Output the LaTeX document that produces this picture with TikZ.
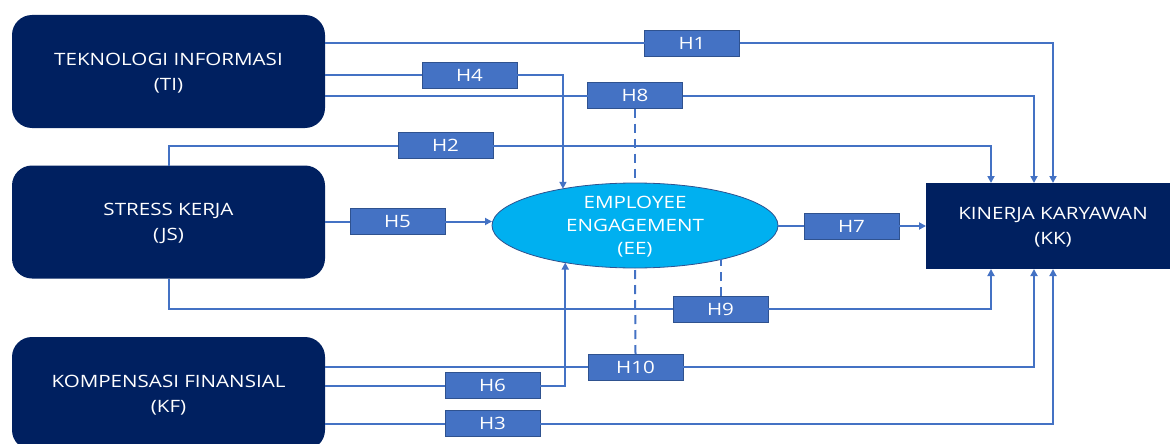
\documentclass[tikz,border=0pt]{standalone}
\usepackage{fontspec}
\newfontfamily\diagfont[FakeStretch=1.21]{Open Sans}
\usetikzlibrary{arrows.meta,shapes.geometric}
\definecolor{navy}{HTML}{002060}
\definecolor{linkblue}{HTML}{4472C4}
\definecolor{hborder}{HTML}{2F528F}
\definecolor{eefill}{HTML}{00B0F0}

\begin{document}
\begin{tikzpicture}[x=1pt,y=-1pt,
  construct/.style={fill=navy, rounded corners=20pt, minimum width=313pt,
    minimum height=113pt, inner sep=0pt, outer sep=0pt, text=white,
    align=center, text depth=-2pt, font=\diagfont\fontsize{17}{25}\selectfont},
  hyp/.style={fill=linkblue, draw=hborder, line width=0.8pt,
    minimum width=95pt, minimum height=26pt, inner sep=0pt, outer sep=0pt,
    text=white, font=\diagfont\fontsize{17}{20}\selectfont},
  link/.style={draw=linkblue, line width=2pt},
  arr/.style={link, -{Triangle[length=7pt,width=7pt]}},
  moder/.style={link, dash pattern=on 9pt off 6pt},
]
\clip (0,0) rectangle (1170,444);

% independent constructs
\node[construct] (ti) at (168.5,71.5) {TEKNOLOGI INFORMASI\\(TI)};
\node[construct] (js) at (168.5,222) {STRESS KERJA\\(JS)};
\node[construct] (kf) at (168.5,393.5) {KOMPENSASI FINANSIAL\\(KF)};

% mediator
\node[ellipse, fill=eefill, draw=hborder, line width=0.8pt, inner sep=0pt,
  outer sep=0pt, minimum width=286pt, minimum height=85pt,
  label={[text=white, align=center, text depth=0pt,
    font=\diagfont\fontsize{17}{23}\selectfont]center:{EMPLOYEE\\ENGAGEMENT\\(EE)}}]
  (ee) at (635,225.5) {};

% dependent construct
\node[fill=navy, minimum width=254pt, minimum height=86pt, inner sep=0pt,
  outer sep=0pt, text=white, align=center, text depth=0pt,
  font=\diagfont\fontsize{17}{25}\selectfont]
  (kk) at (1053,226) {KINERJA KARYAWAN\\(KK)};

% hypothesis labels
\node[hyp] (h1) at (692,43) {H1};
\node[hyp] (h4) at (469.5,75) {H4};
\node[hyp] (h8) at (635,95.5) {H8};
\node[hyp] (h2) at (445.5,145.5) {H2};
\node[hyp] (h5) at (397.5,221.5) {H5};
\node[hyp] (h7) at (851.5,226) {H7};
\node[hyp] (h9) at (720.5,309) {H9};
\node[hyp] (h10) at (635.5,367) {H10};
\node[hyp] (h6) at (492.5,385.5) {H6};
\node[hyp] (h3) at (492.5,423.5) {H3};

% paths into KK from above
\draw[link] (ti.east |- h1) -- (h1.west);
\draw[arr] (h1.east) -| (kk.north);
\draw[link] (ti.east |- h8) -- (h8.west);
\draw[arr] (h8.east) -| ([xshift=-19pt]kk.north);
\draw[link] (js.north) |- (h2.west);
\draw[arr] (h2.east) -| ([xshift=-62pt]kk.north);

% paths into EE
\draw[link] (ti.east |- h4) -- (h4.west);
\draw[arr] (h4.east) -| (ee.153.83);
\draw[link] (js.east |- h5) -- (h5.west);
\draw[arr] (h5.east) -- (ee.west |- h5.east);
\draw[link] (kf.east |- h6) -- (h6.west);
\draw[arr] (h6.east) -| (ee.-152.1);

% EE to KK
\draw[link] (ee.east |- h7) -- (h7.west);
\draw[arr] (h7.east) -- (kk.west |- h7);

% paths into KK from below
\draw[link] (js.south) |- (h9.west);
\draw[arr] (h9.east) -| ([xshift=-62pt]kk.south);
\draw[link] (kf.east |- h10) -- (h10.west);
\draw[arr] (h10.east) -| ([xshift=-19pt]kk.south);
\draw[link] (kf.east |- h3) -- (h3.west);
\draw[arr] (h3.east) -| (kk.south);

% mediation links
\draw[moder] (h8.south) -- (ee.north);
\draw[moder] (h9.north) -- (h9.north |- ee.-21.73);
\draw[moder] (h10.north) -- (ee.south);
\end{tikzpicture}
\end{document}
